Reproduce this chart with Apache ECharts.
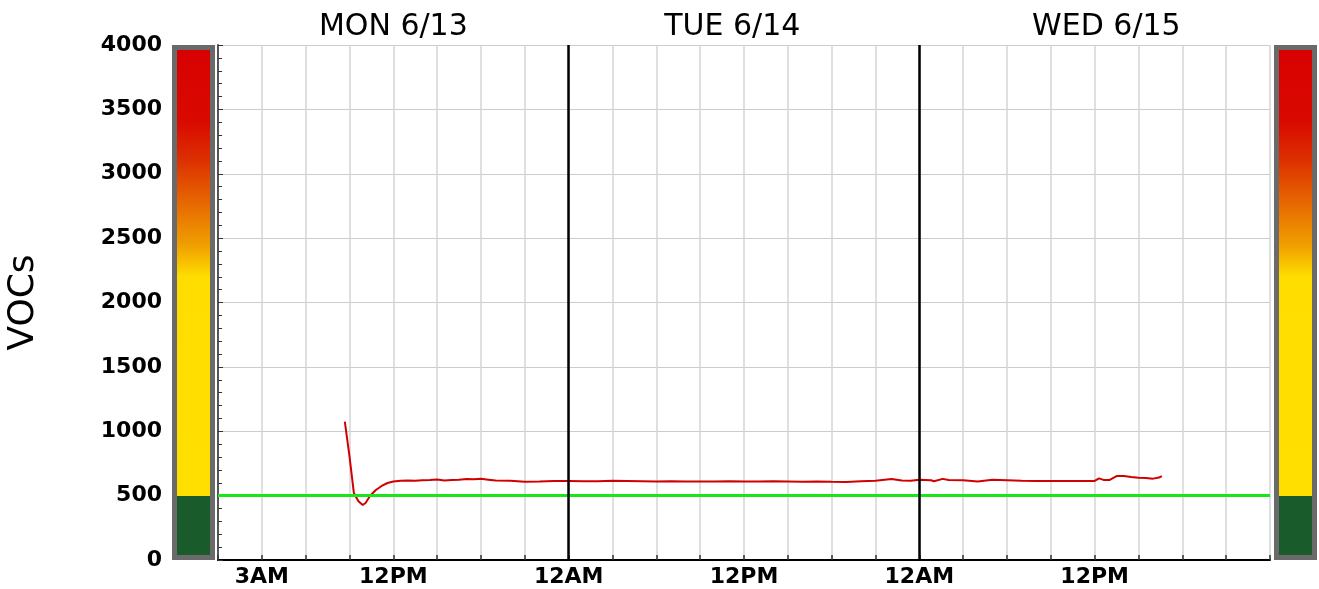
<!DOCTYPE html>
<html>
<head>
<meta charset="utf-8">
<script src="https://cdn.jsdelivr.net/npm/echarts@6/dist/echarts.min.js"></script>
<style>
  html, body { margin: 0; padding: 0; background: #fff; }
  #main { width: 1319px; height: 589px; }
</style>
</head>
<body>
<div id="main"></div>
<script>
// hours since MON 6/13 12AM
const hours = [8.68, 9.0, 9.3, 9.6, 9.9, 10.1, 10.4, 10.8, 11.2, 11.6, 12.0, 12.5, 13, 13.5, 14, 14.5, 15, 15.5, 16, 16.5,
  17, 17.5, 18, 18.5, 19, 20, 21, 22, 23, 24, 25, 26, 27, 28, 29, 30, 31, 32, 33, 34, 35, 36, 37, 38, 39, 40, 41, 42,
  43, 44, 45, 46.1, 46.8, 47.4, 48, 48.8, 49.0, 49.6, 50, 51, 52, 53, 54, 55, 56, 57, 58, 59, 60, 60.3, 60.6, 61,
  61.5, 62, 62.5, 63, 63.5, 64, 64.4, 64.6];
const vocs = [1075, 805, 520, 458, 427, 443, 497, 544, 575, 598, 610, 616, 617, 615, 619, 621, 625, 618, 621, 624,
  629, 627, 631, 624, 617, 616, 608, 610, 614, 613, 611, 612, 615, 614, 612, 610, 611, 609, 610, 609, 611, 610, 609, 611, 610, 608, 609, 607,
  606, 612, 616, 629, 617, 616, 624, 619, 612, 630, 621, 620, 609, 624, 620, 616, 614, 613, 614, 614, 614, 634, 622, 621,
  652, 652, 645, 639, 637, 632, 640, 652];

const threshold = 500;
const dayBreaks = [24, 48];
const dayLabels = ['MON 6/13', 'TUE 6/14', 'WED 6/15'];
const dayLabelAt = [12, 35.2, 60.8];
const timeLabels = { 3: '3AM', 12: '12PM', 24: '12AM', 36: '12PM', 48: '12AM', 60: '12PM' };

const font = 'DejaVu Sans';

const scaleGradient = new echarts.graphic.LinearGradient(0, 0, 0, 1, [
  { offset: 0, color: '#d80000' },
  { offset: 0.15, color: '#d90a00' },
  { offset: 0.22, color: '#dc2e00' },
  { offset: 0.31, color: '#e76a02' },
  { offset: 0.39, color: '#f0a000' },
  { offset: 0.45, color: '#ffdd00' },
  { offset: 0.875, color: '#ffdf00' },
  { offset: 0.875, color: '#1a5b2b' },
  { offset: 1, color: '#1a5b2b' }
]);

const chart = echarts.init(document.getElementById('main'));

const scaleBar = (idx) => ({
  type: 'bar',
  xAxisIndex: idx + 1,
  yAxisIndex: idx + 1,
  barWidth: '100%',
  silent: true,
  data: [4000],
  itemStyle: { color: scaleGradient, borderColor: '#6a6a6a', borderWidth: 5 }
});

chart.setOption({
  animation: false,
  textStyle: { fontFamily: font },
  grid: [
    { left: 218, right: 49, top: 45, bottom: 29, outerBoundsMode: 'none' },
    { left: 172, width: 43, top: 45, bottom: 29, outerBoundsMode: 'none' },
    { left: 1274, width: 43, top: 45, bottom: 29, outerBoundsMode: 'none' }
  ],
  xAxis: [
    {
      type: 'value', gridIndex: 0, min: 0, max: 72, interval: 3,
      axisLine: { show: true, lineStyle: { color: '#000', width: 2 } },
      axisTick: { show: true, inside: true, length: 5, lineStyle: { color: '#333', width: 1.5 } },
      splitLine: { show: true, lineStyle: { color: '#d4d4d4', width: 1.5 } },
      axisLabel: {
        formatter: (v) => timeLabels[v] || '',
        color: '#000', fontWeight: 'bold', fontSize: 22, margin: 6, fontFamily: font
      }
    },
    { type: 'category', gridIndex: 1, data: ['a'], show: false },
    { type: 'category', gridIndex: 2, data: ['a'], show: false },
    {
      type: 'value', gridIndex: 0, position: 'top', min: 0, max: 72,
      axisLine: { show: false }, axisTick: { show: false }, splitLine: { show: false },
      axisLabel: {
        customValues: dayLabelAt,
        formatter: (v) => dayLabels[dayLabelAt.indexOf(v)] || '',
        color: '#000', fontSize: 30, margin: 3, fontFamily: font
      }
    }
  ],
  yAxis: [
    {
      type: 'value', gridIndex: 0, min: 0, max: 4000, interval: 500,
      name: 'VOCs', nameLocation: 'middle', nameGap: 176, nameRotate: 90,
      nameTextStyle: { fontSize: 36, color: '#000', fontFamily: font },
      axisLine: { show: true, lineStyle: { color: '#555', width: 2 } },
      axisTick: { show: true, inside: true, length: 5, lineStyle: { color: '#333' } },
      splitLine: { show: true, lineStyle: { color: '#cccccc', width: 1 } },
      axisLabel: {
        formatter: (v) => String(v),
        color: '#000', fontWeight: 'bold', fontSize: 22, margin: 56, fontFamily: font
      }
    },
    { type: 'value', gridIndex: 1, min: 0, max: 4000, show: false },
    { type: 'value', gridIndex: 2, min: 0, max: 4000, show: false },
    {
      // fine ticks every 100 along the left axis, pointing into the plot
      type: 'value', gridIndex: 0, position: 'left', min: 0, max: 4000, interval: 100,
      axisLine: { show: false },
      axisTick: { show: true, inside: true, length: 4, lineStyle: { color: '#333' } },
      axisLabel: { show: false },
      splitLine: { show: false }
    }
  ],
  series: [
    {
      type: 'line',
      xAxisIndex: 0, yAxisIndex: 0,
      showSymbol: false,
      data: hours.map((h, i) => [h, vocs[i]]),
      lineStyle: { color: '#d00000', width: 2 },
      z: 4,
      markLine: {
        silent: true,
        symbol: 'none',
        label: { show: false },
        data: [
          { yAxis: threshold, lineStyle: { color: '#19e619', width: 3, type: 'solid' } },
          ...dayBreaks.map((d) => ({ xAxis: d, lineStyle: { color: '#000', width: 2.5, type: 'solid' } }))
        ]
      }
    },
    scaleBar(0),
    scaleBar(1)
  ]
});
</script>
</body>
</html>
